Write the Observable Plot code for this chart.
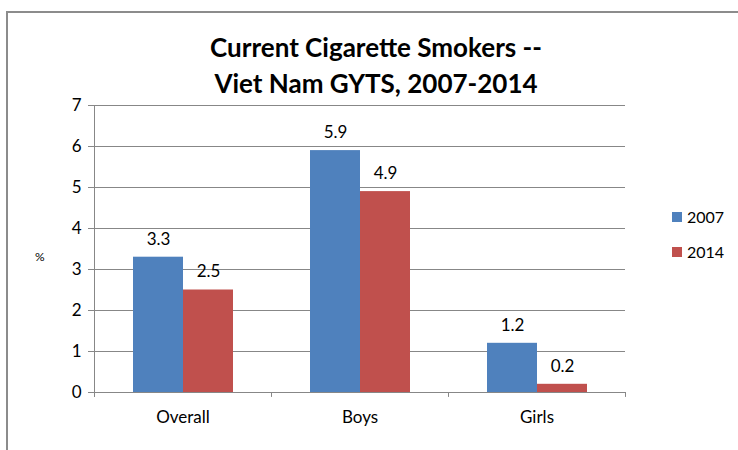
<!DOCTYPE html>
<html><head><meta charset="utf-8">
<script src="https://cdn.jsdelivr.net/npm/d3@7"></script>
<script src="https://cdn.jsdelivr.net/npm/@observablehq/plot@0.6"></script>
<style>
body{margin:0;background:#fff;font-family:Lato,sans-serif;color:#000;}
#page{position:relative;width:738px;height:450px;overflow:hidden;background:#fff;}
#border{position:absolute;left:6px;top:11px;width:800px;height:500px;border-top:2px solid #8c8c8c;border-left:2px solid #8c8c8c;}
#title{position:absolute;left:0;top:29px;width:752px;text-align:center;font-weight:bold;font-size:26px;line-height:36px;}
#chart{position:absolute;left:0;top:95px;}
#ylabel{position:absolute;left:35px;top:249px;font-size:12px;}
#legend{position:absolute;left:672px;top:199px;font-size:16px;}
.item{display:flex;align-items:center;height:35px;}
.sw{width:10px;height:10px;margin-right:5px;}
</style>
</head><body>
<div id="page">
  <div id="border"></div>
  <div id="title"></div>
  <div id="ylabel"></div>
  <div id="chart"></div>
  <div id="legend"></div>
</div>
<script>
const titleLines = ["Current Cigarette Smokers --", "Viet Nam GYTS, 2007-2014"];
const yLabel = "%";
const categories = ["Overall", "Boys", "Girls"];
const years = ["2007", "2014"];
const values2007 = [3.3, 5.9, 1.2];
const values2014 = [2.5, 4.9, 0.2];
const colors = ["#4F81BD", "#C0504D"];
const yTicks = [0, 1, 2, 3, 4, 5, 6, 7];

const rows = [];
categories.forEach((c, i) => {
  rows.push({category: c, year: years[0], value: values2007[i]});
  rows.push({category: c, year: years[1], value: values2014[i]});
});

const W = 738, H = 355, ML = 94, MR = 113, MT = 10, MB = 58;
const fw = (W - ML - MR) / categories.length;
const gray = "#878787";

document.getElementById("title").innerHTML = titleLines.join("<br>");
document.getElementById("ylabel").textContent = yLabel;

const plot = Plot.plot({
  width: W, height: H,
  marginLeft: ML, marginRight: MR, marginTop: MT, marginBottom: MB,
  style: {fontFamily: "Lato, sans-serif", fontSize: "17px", color: "#000", background: "transparent"},
  fx: {domain: categories, padding: 0},
  x: {domain: years, paddingInner: 0, paddingOuter: 0.75, axis: null},
  y: {domain: [0, 7]},
  color: {domain: years, range: colors},
  marks: [
    Plot.gridY(yTicks, {stroke: gray, strokeOpacity: 1}),
    Plot.barY(rows, {fx: "category", x: "year", y: "value", fill: "year"}),
    Plot.text(rows, {fx: "category", x: "year", y: "value", text: d => d.value.toFixed(1), dy: -18, fontSize: 17, fill: "#000"}),
    Plot.ruleY([0], {stroke: gray}),
    Plot.ruleX([categories[0]], {fx: d => d, x: null, y1: -0.12, y2: 7, dx: -fw / 2, stroke: gray}),
    Plot.ruleX(categories, {fx: d => d, x: null, y1: 0, y2: -0.12, dx: -fw / 2, stroke: gray}),
    Plot.ruleX([categories[categories.length - 1]], {fx: d => d, x: null, y1: 0, y2: -0.12, dx: fw / 2, stroke: gray}),
    Plot.axisY({ticks: yTicks, tickFormat: d3.format("d"), tickSize: 6, tickPadding: 7, fontSize: 17, label: null, stroke: gray, fill: "#000"}),
    Plot.axisFx({anchor: "bottom", tickSize: 0, tickPadding: 18, fontSize: 17, label: null, fill: "#000"})
  ]
});
document.getElementById("chart").appendChild(plot);

const legend = document.getElementById("legend");
years.forEach((y, i) => {
  const item = document.createElement("div");
  item.className = "item";
  item.innerHTML = `<div class="sw" style="background:${colors[i]}"></div><span>${y}</span>`;
  legend.appendChild(item);
});
</script>
</body></html>
